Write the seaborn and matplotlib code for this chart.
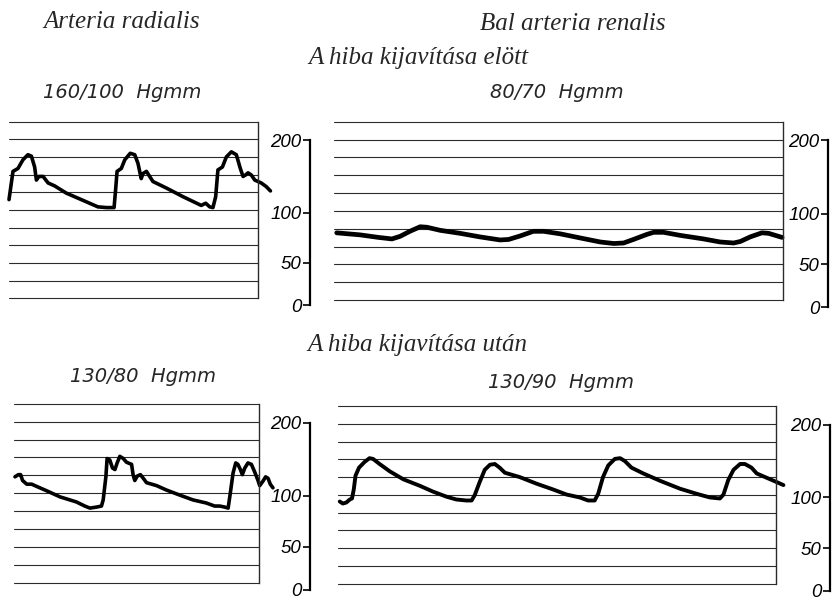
import numpy as np
import pandas as pd
import seaborn as sns
from matplotlib import pyplot as plt
from matplotlib.ticker import FixedLocator

# recorder calibration: pressure (Hgmm) -> height in chart-line units
cal_mmhg = [-20, 0, 50, 100, 200, 260]
cal_units = [-1.36, -0.4, 2.0, 4.85, 8.95, 11.41]
scale_ticks = [0, 50, 100, 200]
grid_units = list(range(11))

# Arteria radialis, before the repair (160/100 Hgmm)
radialis_before_t = [0, 1.6, 3.6, 5.6, 7.6, 9.0, 10.3, 11.0, 12.0, 13.7, 15.7, 18.3, 23.0,
                     29.7, 35.7, 39.1, 42.2, 42.8, 43.4, 45.1, 46.5, 48.7, 50.5, 51.8, 53.1,
                     53.8, 55.2, 56.5, 57.8, 63.2, 69.9, 77.2, 79.0, 80.6, 81.9, 83.0, 83.9,
                     85.7, 87.3, 89.3, 91.3, 92.9, 94.0, 95.0, 96.0, 97.3, 98.7, 101.3, 103.3, 105.0]
radialis_before_p = [118, 157, 161, 173, 180, 178, 163, 145, 150, 150, 141, 137, 127,
                     117, 108, 107, 107, 131, 157, 161, 173, 182, 180, 168, 147,
                     154, 157, 150, 143, 134, 122, 110, 113, 108, 107, 122, 159,
                     163, 177, 184, 180, 161, 150, 152, 155, 152, 145, 141, 136, 130]

# Bal arteria renalis, before the repair (80/70 Hgmm)
renalis_before_t = [0.6, 5.8, 9.9, 12.9, 14.7, 16.9, 19.2, 20.7, 23.6, 28.1, 32.5, 37.0,
                    38.9, 41.5, 44.4, 46.7, 50.4, 54.8, 59.3, 62.3, 64.5, 66.7, 69.7, 71.2,
                    73.4, 77.1, 82.3, 86.0, 89.0, 90.5, 92.7, 95.3, 96.8, 99.8]
renalis_before_p = [81, 79, 76.5, 75, 77.5, 82.5, 87, 86.5, 83.5, 80.5, 77, 74,
                    74.5, 78, 82.5, 82.5, 80, 76, 72, 70.5, 71, 74.5, 79.5, 81.5,
                    81.5, 78.5, 75, 72, 71, 72.5, 77, 81, 80.5, 76.5]

# Arteria radialis, after the repair (130/80 Hgmm)
radialis_after_t = [0.4, 1.8, 2.7, 3.5, 5.2, 7.2, 9.2, 13.3, 18.8, 21.5, 25.5, 28.9, 31.0,
                    33.7, 35.7, 36.4, 37.5, 38.0, 39.1, 40.2, 41.2, 42.1, 43.2, 44.6, 45.9,
                    48.0, 48.6, 49.3, 50.3, 51.6, 53.0, 54.1, 58.2, 62.2, 67.7, 73.1, 78.5,
                    81.9, 84.0, 86.0, 87.4, 88.3, 89.4, 90.5, 91.4, 92.4, 93.2, 94.2, 95.5,
                    96.9, 98.2, 99.6, 100.3, 101.6, 102.7, 103.7, 104.6, 105.7]
radialis_after_p = [126, 129, 129, 121, 116, 116, 113, 107, 99, 97, 94, 90, 88,
                    89, 90, 96, 126, 151, 149, 138, 136, 145, 154, 151, 146,
                    143, 129, 121, 127, 129, 123, 118, 114, 108, 101, 96, 93,
                    90, 90, 89, 88, 104, 131, 145, 143, 136, 129, 138, 145,
                    143, 133, 121, 114, 120, 126, 124, 116, 111]

# Bal arteria renalis, after the repair (130/90 Hgmm)
renalis_after_t = [0.4, 1.1, 1.9, 2.7, 3.2, 3.6, 4.0, 4.8, 6.1, 7.2, 8.0, 9.5, 11.8, 14.9,
                   18.7, 21.7, 24.8, 27.0, 29.3, 30.5, 31.2, 32.4, 33.5, 34.7, 35.8, 36.9,
                   38.1, 41.5, 45.3, 49.1, 52.2, 55.2, 57.1, 58.6, 59.4, 60.5, 61.7, 63.2,
                   64.4, 65.5, 67.0, 69.7, 73.5, 78.1, 81.9, 84.9, 87.2, 88.0, 89.1, 90.3,
                   91.8, 92.9, 94.4, 95.6, 97.9, 100.2, 101.7]
renalis_after_p = [96, 94, 95, 98, 99, 111, 130, 141, 149, 154, 153, 146, 136, 125,
                   116, 108, 101, 98, 97, 97, 103, 122, 138, 145, 146, 141,
                   134, 128, 119, 111, 104, 100, 97, 97, 105, 128, 144, 153,
                   154, 150, 141, 133, 123, 112, 105, 100, 99, 104, 124, 138,
                   146, 146, 141, 133, 127, 121, 117]

W, H = 833, 600


def to_units(v):
    return np.interp(v, cal_mmhg, cal_units)


def to_mmhg(u):
    return np.interp(u, cal_units, cal_mmhg)


sns.set_style("white")
plt.rcParams["font.family"] = ["DejaVu Sans"]

fig = plt.figure(figsize=(W / 100, H / 100), dpi=100)


def draw_panel(left, right, base, step, t, p, lw, scale_x):
    # base = pixel row of the lowest chart line, step = line spacing in pixels
    top = base - 10.2 * step
    bottom = base + 0.7 * step
    ax = fig.add_axes([left / W, 1 - bottom / H, (right - left) / W, (bottom - top) / H])
    df = pd.DataFrame({"t": t, "p": p})
    sns.lineplot(data=df, x="t", y="p", ax=ax, color="black", linewidth=lw,
                 estimator=None, sort=False)
    for ln in ax.lines:
        ln.set_clip_on(False)
        ln.set_solid_capstyle("round")
        ln.set_solid_joinstyle("round")
    ax.set_yscale("function", functions=(to_units, to_mmhg))
    ax.set_xlim(0, 100)
    ax.set_ylim(to_mmhg(-0.7), to_mmhg(10.2))
    ax.set_xticks([])
    ax.set_xlabel("")
    ax.set_ylabel("")
    ax.set_facecolor("none")

    ax.spines["top"].set_visible(False)
    ax.spines["bottom"].set_visible(False)
    ax.spines["left"].set_position(("axes", (scale_x - left) / (right - left)))
    ax.spines["left"].set_bounds(0, 200)
    ax.spines["left"].set_linewidth(1.6)
    ax.spines["left"].set_color("black")
    ax.spines["right"].set_bounds(to_mmhg(0), to_mmhg(10))
    ax.spines["right"].set_linewidth(1.0)
    ax.spines["right"].set_color("#2b2b2b")

    ax.yaxis.remove_overlapping_locs = False
    ax.yaxis.set_minor_locator(FixedLocator(to_mmhg(np.array(grid_units, dtype=float))))
    ax.set_yticks(scale_ticks)
    ax.grid(False)
    ax.grid(True, which="minor", axis="y", color="#2b2b2b", linewidth=0.8)
    ax.yaxis.set_ticks_position("left")
    ax.tick_params(axis="y", which="minor", length=0)
    ax.tick_params(axis="y", which="major", direction="out", length=5, width=1.2,
                   pad=1, colors="black")
    ax.set_yticklabels([str(v) for v in scale_ticks], fontfamily="Liberation Sans",
                       fontstyle="italic", fontsize=13.5)
    return ax


draw_panel(9, 258, 298.3, 17.66, radialis_before_t, radialis_before_p, 2.6, 310)
draw_panel(334, 783, 300.0, 17.83, renalis_before_t, renalis_before_p, 3.4, 828)
draw_panel(14, 259, 582.5, 17.86, radialis_after_t, radialis_after_p, 2.6, 310)
draw_panel(338, 776, 583.5, 17.74, renalis_after_t, renalis_after_p, 2.8, 830)

serif = dict(family="Liberation Serif", style="italic", fontsize=18, va="center")
sans = dict(family="DejaVu Sans", style="oblique", fontsize=14, va="center")

fig.text(43 / W, 1 - 22 / H, "Arteria radialis", ha="left", **serif)
fig.text(573 / W, 1 - 24 / H, "Bal arteria renalis", ha="center", **serif)
fig.text(308 / W, 1 - 58 / H, "A hiba kijavítása elött", ha="left", **serif)
fig.text(307 / W, 1 - 345 / H, "A hiba kijavítása után", ha="left", **serif)

fig.text(43 / W, 1 - 92 / H, "160/100  Hgmm", ha="left", **sans)
fig.text(490 / W, 1 - 93 / H, "80/70  Hgmm", ha="left", **sans)
fig.text(70 / W, 1 - 377 / H, "130/80  Hgmm", ha="left", **sans)
fig.text(488 / W, 1 - 382 / H, "130/90  Hgmm", ha="left", **sans)

fig.savefig("out.png", dpi=100, facecolor="white")
